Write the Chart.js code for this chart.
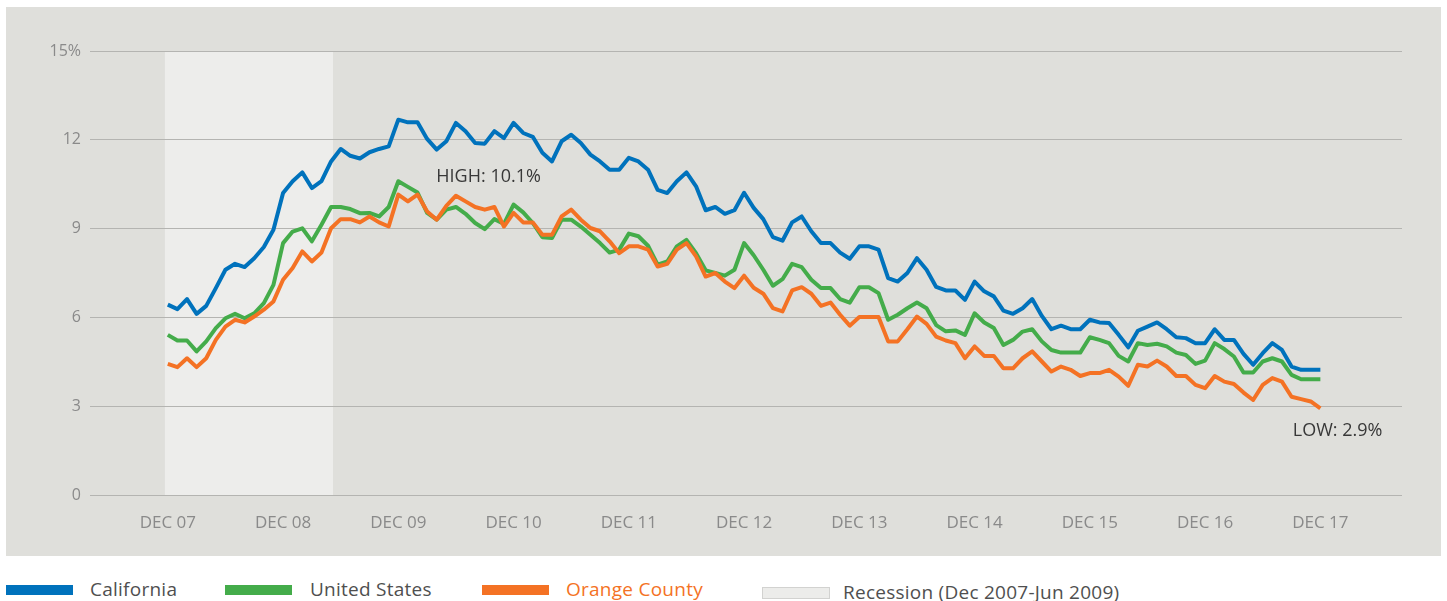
<!DOCTYPE html>
<html>
<head>
<meta charset="utf-8">
<script src="https://cdn.jsdelivr.net/npm/chart.js@4.4.1/dist/chart.umd.min.js"></script>
<style>
html,body{margin:0;padding:0;background:#ffffff;width:1447px;height:601px;overflow:hidden;font-family:"Open Sans",Lato,sans-serif;}
#panel{position:absolute;left:6px;top:7px;width:1435px;height:549px;background:#dfdfdb;}
.sw{position:absolute;width:67px;height:10px;}
.lt{position:absolute;font-size:19px;letter-spacing:0.25px;line-height:24px;color:#4f4f4f;white-space:nowrap;}
</style>
</head>
<body>
<div id="panel"><canvas id="c"></canvas></div>

<span class="sw" style="left:6px;top:585px;background:#0072bc"></span>
<span class="lt" style="left:90px;top:577px">California</span>
<span class="sw" style="left:225px;top:585px;background:#44ac4a"></span>
<span class="lt" style="left:310px;top:577px">United States</span>
<span class="sw" style="left:482px;top:585px;background:#f47224"></span>
<span class="lt" style="left:566px;top:577px;color:#f47224">Orange County</span>
<span class="sw" style="left:762px;top:587px;height:10px;background:#ececea;border:1px solid #d2d2d0;width:66px"></span>
<span class="lt" style="left:843px;top:580px">Recession (Dec 2007-Jun 2009)</span>

<script>
// Month index 0 = Dec 2007 ... 120 = Dec 2017 (monthly unemployment rate, %)
const california = [
 6.43,6.28,6.62,6.12,6.39,6.99,7.61,7.81,7.70,8.00,8.38,8.96,
 10.20,10.60,10.90,10.37,10.60,11.27,11.69,11.46,11.37,11.58,11.69,11.78,
 12.68,12.59,12.59,12.03,11.67,11.95,12.57,12.29,11.89,11.87,12.29,12.06,
 12.57,12.23,12.10,11.56,11.27,11.95,12.17,11.89,11.50,11.27,10.99,10.99,
 11.39,11.27,10.99,10.31,10.20,10.60,10.90,10.43,9.62,9.73,9.50,9.62,
 10.21,9.70,9.32,8.71,8.59,9.21,9.41,8.91,8.51,8.51,8.19,7.98,
 8.40,8.40,8.29,7.33,7.21,7.50,8.00,7.61,7.03,6.91,6.91,6.59,
 7.21,6.88,6.71,6.23,6.12,6.31,6.62,6.05,5.60,5.72,5.60,5.60,
 5.92,5.83,5.81,5.41,4.99,5.55,5.69,5.83,5.60,5.33,5.30,5.13,
 5.13,5.60,5.24,5.24,4.77,4.40,4.79,5.13,4.90,4.34,4.23,4.23,
 4.23
];
const unitedStates = [
 5.41,5.22,5.22,4.85,5.19,5.64,5.97,6.12,5.97,6.14,6.48,7.10,
 8.51,8.90,9.01,8.57,9.13,9.73,9.73,9.66,9.52,9.53,9.41,9.73,
 10.60,10.41,10.22,9.53,9.30,9.64,9.73,9.50,9.19,8.98,9.32,9.16,
 9.81,9.55,9.19,8.71,8.68,9.30,9.30,9.07,8.79,8.51,8.19,8.29,
 8.83,8.74,8.42,7.78,7.89,8.40,8.62,8.17,7.59,7.50,7.41,7.61,
 8.51,8.10,7.61,7.07,7.29,7.81,7.70,7.27,6.99,6.99,6.62,6.50,
 7.02,7.02,6.82,5.92,6.09,6.31,6.50,6.31,5.74,5.53,5.56,5.41,
 6.14,5.83,5.64,5.07,5.24,5.52,5.60,5.19,4.90,4.81,4.81,4.81,
 5.33,5.24,5.13,4.70,4.51,5.13,5.07,5.11,5.02,4.81,4.73,4.43,
 4.54,5.13,4.93,4.68,4.14,4.14,4.51,4.62,4.51,4.06,3.91,3.91,
 3.91
];
const orangeCounty = [
 4.43,4.32,4.62,4.32,4.62,5.24,5.69,5.92,5.83,6.03,6.26,6.54,
 7.27,7.67,8.23,7.89,8.19,9.01,9.32,9.32,9.21,9.41,9.21,9.07,
 10.15,9.92,10.15,9.58,9.30,9.77,10.11,9.92,9.73,9.64,9.73,9.07,
 9.53,9.21,9.21,8.79,8.79,9.41,9.64,9.30,9.02,8.91,8.57,8.17,
 8.40,8.40,8.29,7.72,7.81,8.29,8.51,8.06,7.38,7.50,7.21,6.99,
 7.41,7.00,6.80,6.31,6.20,6.91,7.02,6.80,6.39,6.50,6.09,5.72,
 6.01,6.01,6.01,5.19,5.19,5.60,6.03,5.78,5.35,5.22,5.13,4.62,
 5.02,4.70,4.70,4.28,4.28,4.62,4.85,4.51,4.17,4.34,4.23,4.02,
 4.12,4.12,4.23,4.00,3.69,4.40,4.34,4.54,4.34,4.02,4.02,3.72,
 3.61,4.02,3.83,3.75,3.46,3.21,3.72,3.95,3.83,3.32,3.24,3.16,
 2.93
];
const tickLabels = ['DEC 07','DEC 08','DEC 09','DEC 10','DEC 11','DEC 12','DEC 13','DEC 14','DEC 15','DEC 16','DEC 17'];
const tickMonths = [0,12,24,36,48,60,72,84,96,108,120];
const yTicks = [0,3,6,9,12,15];
const recession = [-0.3, 17.2];
const notes = [
  {text:'HIGH: 10.1%', x:33.4, y:10.76},
  {text:'LOW: 2.9%', x:121.8, y:2.16}
];

const FONT = '"Open Sans", Lato, sans-serif';
const toPts = arr => arr.map((v,i)=>({x:i, y:v}));

const recessionPlugin = {
  id:'recession',
  beforeDraw(chart){
    const {ctx, scales:{x,y}} = chart;
    const x0 = x.getPixelForValue(recession[0]);
    const x1 = x.getPixelForValue(recession[1]);
    const yt = y.getPixelForValue(15), yb = y.getPixelForValue(0);
    ctx.save();
    ctx.fillStyle = '#ededeb';
    ctx.fillRect(x0, yt, x1-x0, yb-yt);
    ctx.restore();
  }
};
const notesPlugin = {
  id:'notes',
  afterDatasetsDraw(chart){
    const {ctx, scales:{x,y}} = chart;
    ctx.save();
    ctx.font = '18px ' + FONT;
    ctx.fillStyle = '#383838';
    ctx.textAlign = 'center';
    ctx.textBaseline = 'middle';
    notes.forEach(n => ctx.fillText(n.text, x.getPixelForValue(n.x), y.getPixelForValue(n.y)));
    ctx.restore();
  }
};

new Chart(document.getElementById('c'), {
  type:'line',
  data:{
    datasets:[
      {label:'California', data:toPts(california), borderColor:'#0072bc', order:2},
      {label:'United States', data:toPts(unitedStates), borderColor:'#44ac4a', order:1},
      {label:'Orange County', data:toPts(orangeCounty), borderColor:'#f47224', order:0}
    ]
  },
  options:{
    responsive:true, maintainAspectRatio:false, animation:false,
    layout:{padding:{left:0, right:39, top:44, bottom:0}},
    elements:{point:{radius:0, hoverRadius:0}, line:{borderWidth:4, tension:0, fill:false, borderJoinStyle:'round'}},
    plugins:{legend:{display:false}, tooltip:{enabled:false}},
    events:[],
    scales:{
      x:{
        type:'linear', min:-8.1, max:128.5,
        grid:{display:false, drawTicks:false}, border:{display:false},
        afterBuildTicks:s=>{ s.ticks = tickMonths.map(v=>({value:v})); },
        afterFit:s=>{ s.height = 61; },
        ticks:{
          autoSkip:false, maxRotation:0, padding:18, color:'#8a8a8a',
          font:{family:FONT, size:17},
          callback:v=>{ const k = tickMonths.indexOf(v); return k>=0 ? tickLabels[k] : ''; }
        }
      },
      y:{
        min:0, max:15,
        afterBuildTicks:s=>{ s.ticks = yTicks.map(v=>({value:v})); },
        afterFit:s=>{ s.width = 84; },
        grid:{color:'#b4b4b1', lineWidth:1, drawTicks:false}, border:{display:false},
        ticks:{
          padding:9, color:'#8a8a8a', font:{family:FONT, size:16},
          callback:v=> v===15 ? '15%' : String(v)
        }
      }
    }
  },
  plugins:[recessionPlugin, notesPlugin]
});
</script>
</body>
</html>
